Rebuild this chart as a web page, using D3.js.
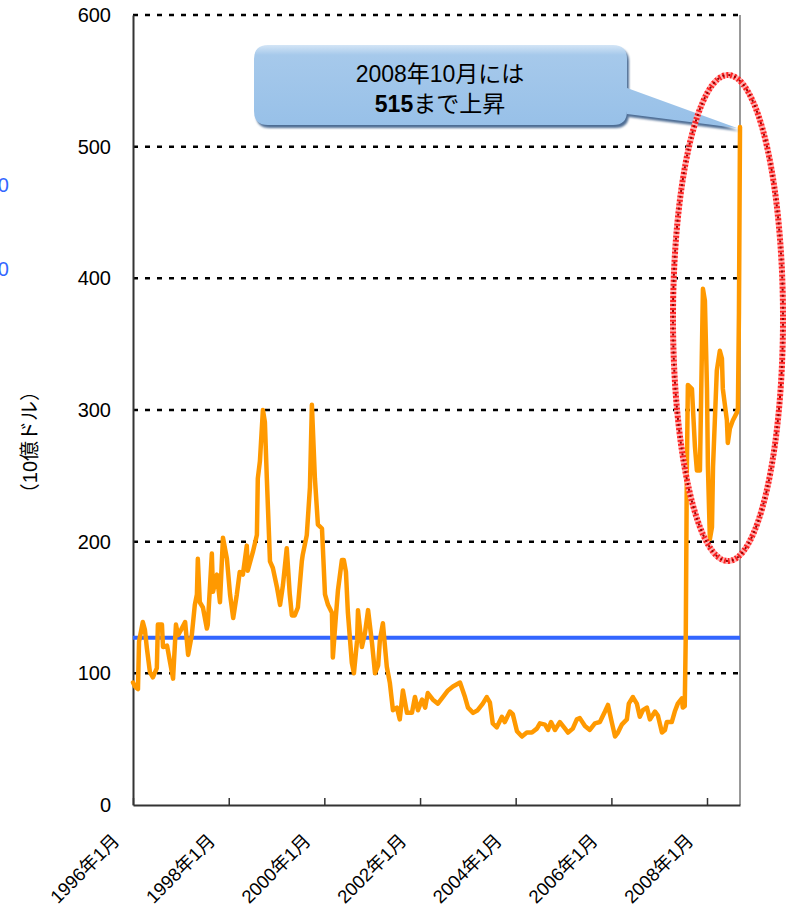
<!DOCTYPE html>
<html><head><meta charset="utf-8">
<script src="https://cdn.jsdelivr.net/npm/d3@7"></script>
<style>body{margin:0;background:#fff}svg{display:block}</style>
</head><body>
<svg id="c" width="786" height="913"></svg>
<script>
const dates = ["1996-01-01","1996-01-16","1996-02-08","1996-02-16","1996-03-16","1996-04-01","1996-04-16","1996-05-09","1996-06-01","1996-07-01","1996-07-09","1996-08-09","1996-08-17","1996-09-17","1996-10-09","1996-11-02","1996-11-24","1996-12-10",
"1997-01-02","1997-02-02","1997-02-25","1997-03-25","1997-04-17","1997-05-03","1997-05-10","1997-05-25","1997-06-18","1997-07-18","1997-07-25","1997-08-25","1997-09-03","1997-10-03","1997-10-26","1997-11-18","1997-12-18",
"1998-01-11","1998-02-04","1998-03-04","1998-03-26","1998-04-19","1998-05-19","1998-05-26","1998-07-04","1998-08-04","1998-08-11","1998-08-27","1998-09-19","1998-10-04","1998-10-19","1998-11-12","1998-12-04",
"1999-01-05","1999-01-28","1999-02-19","1999-03-20","1999-04-12","1999-04-28","1999-05-20","1999-06-13","1999-07-13","1999-07-20","1999-08-20","1999-09-13","1999-09-28","1999-10-21","1999-11-13","1999-12-14",
"2000-01-06","2000-01-29","2000-02-28","2000-03-06","2000-03-29","2000-04-14","2000-05-14","2000-05-29","2000-06-14","2000-06-29","2000-07-29","2000-08-14","2000-09-07","2000-09-14","2000-10-14","2000-11-07","2000-11-30","2000-12-30",
"2001-01-22","2001-02-15","2001-02-28","2001-03-23","2001-04-22","2001-05-15","2001-06-08","2001-07-08","2001-07-30","2001-08-23","2001-09-23","2001-10-31","2001-11-23","2001-12-16",
"2002-01-16","2002-02-09","2002-03-01","2002-04-09","2002-05-17","2002-06-24","2002-08-02","2002-09-09","2002-11-02","2002-12-10",
"2003-01-02","2003-02-10","2003-03-17","2003-04-25","2003-05-25","2003-06-18","2003-07-10","2003-08-10","2003-09-18","2003-10-10","2003-11-18","2003-12-10",
"2004-01-11","2004-02-18","2004-03-26","2004-05-04","2004-06-11","2004-07-04","2004-08-12","2004-09-04","2004-09-27","2004-10-27","2004-12-04",
"2005-01-12","2005-02-04","2005-03-12","2005-04-12","2005-05-05","2005-06-13","2005-07-20","2005-08-28","2005-10-05","2005-11-13","2005-12-06",
"2006-01-06","2006-01-29","2006-02-20","2006-03-21","2006-04-29","2006-05-14","2006-06-14","2006-07-14","2006-08-06","2006-08-29","2006-09-29","2006-10-22","2006-11-30","2006-12-22",
"2007-01-22","2007-02-14","2007-02-28","2007-04-07","2007-04-30","2007-05-23","2007-06-23","2007-06-30","2007-07-15","2007-07-23","2007-07-31","2007-08-08","2007-09-08","2007-10-01","2007-10-16","2007-11-08","2007-11-23","2007-12-01","2007-12-16",
"2008-01-01","2008-01-08","2008-01-23","2008-02-08","2008-02-16","2008-03-16","2008-04-08","2008-04-24","2008-05-01","2008-06-01","2008-06-08","2008-06-24","2008-07-16","2008-08-16","2008-08-24","2008-09-01","2008-09-09"];
const values = [93,90,88,124,139,133,119,101,97,104,137,137,120,121,109,96,137,129,
133,139,114,129,152,160,187,154,150,134,137,191,162,175,154,203,187,
160,142,160,177,175,197,178,192,205,248,261,300,291,248,185,180,
165,152,167,195,160,144,144,150,185,190,205,241,304,248,213,210,
160,152,146,112,143,163,186,186,177,146,108,100,125,148,120,131,148,123,
100,106,125,138,105,93,72,74,65,87,70,70,82,72,
80,74,85,80,77,82,87,90,93,82,
74,70,72,77,82,78,62,59,67,63,71,69,
56,52,55,55,58,62,61,57,63,57,63,
58,55,58,65,66,60,57,62,63,71,76,
62,52,55,61,65,77,82,77,67,72,74,65,71,68,
55,57,63,63,71,77,81,74,75,130,254,319,316,272,254,254,345,392,383,
316,257,202,211,257,330,345,339,316,292,275,286,292,298,301,374,515];
const averageValue = 127;
const yTicks = [0,100,200,300,400,500,600];
const gridValues = [100,200,300,400,500,600];
const xTickDates = ["1996-01-01","1998-01-01","2000-01-01","2002-01-01","2004-01-01","2006-01-01","2008-01-01"];
const xTickLabels = ["1996年1月","1998年1月","2000年1月","2002年1月","2004年1月","2006年1月","2008年1月"];
const secondaryLabels = ["1000","800"];
const secondaryLabelValues = [471,407];
const yTitle = "（10億ドル）";
const noteLine1 = "2008年10月には";
const noteBold = "515";
const noteRest = "まで上昇";

const parse = d3.timeParse("%Y-%m-%d");
const data = dates.map((d,i)=>({date:parse(d), value:values[i]}));
const svg = d3.select("#c");
const FONT = "'Liberation Sans', Arial, 'Noto Sans CJK JP', sans-serif";
const L=133, R=740, T=15, B=805;
const x = d3.scaleTime().domain([parse("1996-01-01"), parse("2008-09-09")]).range([L,R]);
const y = d3.scaleLinear().domain([0,600]).range([B,T]);

// secondary (cut-off) labels, partly outside the left edge as in the reference
svg.append("g").selectAll("text").data(secondaryLabels).join("text")
  .attr("x",9).attr("y",(d,i)=>y(secondaryLabelValues[i])).attr("dy","0.35em")
  .attr("text-anchor","end").attr("fill","#3366ff")
  .style("font-family",FONT).style("font-size","20px").text(d=>d);

// y title
svg.append("text").attr("transform","translate(37,442) rotate(-90)")
  .attr("text-anchor","middle").style("font-family",FONT).style("font-size","20px")
  .attr("fill","#000").text(yTitle);

// right border
svg.append("line").attr("x1",R).attr("x2",R).attr("y1",T).attr("y2",B)
  .attr("stroke","#999").attr("stroke-width",2);

// gridlines
svg.append("g").selectAll("line").data(gridValues).join("line")
  .attr("x1",L).attr("x2",R).attr("y1",d=>y(d)).attr("y2",d=>y(d))
  .attr("stroke","#000").attr("stroke-width",2.5).attr("stroke-dasharray","5 7");

// y axis
const ya = svg.append("g").attr("transform",`translate(${L},0)`)
  .call(d3.axisLeft(y).tickValues(yTicks).tickSize(0).tickPadding(22).tickSizeOuter(0));
ya.select(".domain").attr("stroke","#333").attr("stroke-width",2);
ya.selectAll("text").style("font-family",FONT).style("font-size","20px").attr("fill","#000");

// x axis
const xa = svg.append("g").attr("transform",`translate(0,${B})`)
  .call(d3.axisBottom(x).tickValues(xTickDates.map(parse)).tickSize(-7).tickSizeOuter(0)
    .tickFormat((d,i)=>xTickLabels[i]));
xa.select(".domain").attr("stroke","#333").attr("stroke-width",2);
xa.selectAll(".tick line").attr("stroke","#333").attr("stroke-width",1.5);
xa.selectAll("text").attr("x",0).attr("y",0).attr("dy",0)
  .attr("transform","translate(-13,37) rotate(-45)").attr("text-anchor","end")
  .style("font-family",FONT).style("font-size","18.5px").attr("fill","#000");

// average line
svg.append("line").attr("x1",L).attr("x2",R).attr("y1",y(averageValue)).attr("y2",y(averageValue))
  .attr("stroke","#3366ff").attr("stroke-width",4);

// data line
svg.append("path").datum(data)
  .attr("d", d3.line().x(d=>x(d.date)).y(d=>y(d.value)))
  .attr("fill","none").attr("stroke","#ff9900").attr("stroke-width",4.5)
  .attr("stroke-linejoin","round").attr("stroke-linecap","round");

// callout
const defs = svg.append("defs");
const g = defs.append("linearGradient").attr("id","cg").attr("x1",0).attr("x2",0).attr("y1",0).attr("y2",1);
g.append("stop").attr("offset","0%").attr("stop-color","#d3e5f6");
g.append("stop").attr("offset","12%").attr("stop-color","#a6c9eb");
g.append("stop").attr("offset","100%").attr("stop-color","#97c0e8");
defs.append("filter").attr("id","bl").append("feGaussianBlur").attr("stdDeviation",1);
const last = data[data.length-1];
const tipX = x(last.date)-3, tipY = y(last.value)+1;
const cp = `M268,45 H613 Q627,45 627,59 V88 L${tipX},${tipY} L627,114 V111 Q627,125 613,125 H268 Q254,125 254,111 V59 Q254,45 268,45 Z`;
svg.append("path").attr("d",cp).attr("transform","translate(2,3)").attr("fill","#4d6d94").attr("filter","url(#bl)");
svg.append("path").attr("d",cp).attr("fill","url(#cg)");
svg.append("text").attr("x",440).attr("y",82).attr("text-anchor","middle")
  .style("font-family",FONT).style("font-size","23px").attr("fill","#000").text(noteLine1);
const t2 = svg.append("text").attr("x",440).attr("y",112).attr("text-anchor","middle")
  .style("font-family",FONT).style("font-size","23px").attr("fill","#000");
t2.append("tspan").style("font-weight","bold").text(noteBold);
t2.append("tspan").text(noteRest);

// red dotted ellipse
const ell = (stroke, w, dash, off) => svg.append("ellipse").attr("cx",728).attr("cy",318).attr("rx",55).attr("ry",243)
  .attr("fill","none").attr("stroke",stroke).attr("stroke-width",w).attr("stroke-dasharray",dash).attr("stroke-dashoffset",off);
ell("#ffb0b0",6,"2 2",2);
ell("#ff2020",6,"2 2",0);
ell("#990000",2,"2 4",0);
</script>
</body></html>
